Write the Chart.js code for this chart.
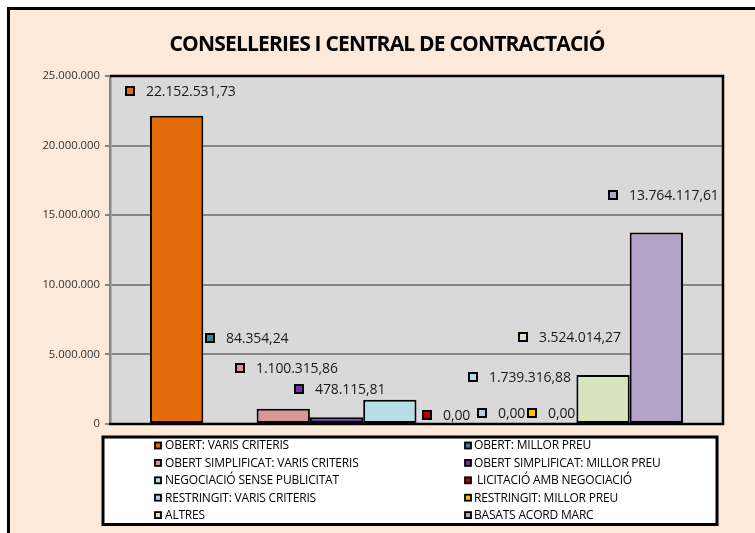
<!DOCTYPE html>
<html>
<head>
<meta charset="utf-8">
<script src="https://cdn.jsdelivr.net/npm/chart.js@4/dist/chart.umd.min.js"></script>
<style>
  html, body { margin: 0; padding: 0; background: #ffffff; }
  #wrap { position: absolute; left: 0; top: 0; width: 755px; height: 533px; }
</style>
</head>
<body>
<div id="wrap"><canvas id="c" width="755" height="533"></canvas></div>
<script>
// ---- data ----
const categories = [''];
const seriesNames = [
  'OBERT: VARIS CRITERIS',
  'OBERT: MILLOR PREU',
  'OBERT SIMPLIFICAT: VARIS CRITERIS',
  'OBERT SIMPLIFICAT: MILLOR PREU',
  'NEGOCIACIÓ SENSE PUBLICITAT',
  ' LICITACIÓ AMB NEGOCIACIÓ',
  'RESTRINGIT: VARIS CRITERIS',
  'RESTRINGIT: MILLOR PREU',
  'ALTRES',
  'BASATS ACORD MARC'
];
const seriesValues = [
  22152531.73,
  84354.24,
  1100315.86,
  478115.81,
  1739316.88,
  0.00,
  0.00,
  0.00,
  3524014.27,
  13764117.61
];
const yTickValues = [0, 5000000, 10000000, 15000000, 20000000, 25000000];
const chartTitle = 'CONSELLERIES I CENTRAL DE CONTRACTACIÓ';

// ---- styles ----
const seriesColors = ['#E46C0A', '#31859C', '#DA9694', '#7030A0', '#B7DEE8',
                      '#C00000', '#B9CDE5', '#FFC000', '#D7E4BD', '#B3A2C7'];
// data-label anchor: marker left relative to bar centre, label centre relative to bar top (px)
const labelNudge = [[-52, -25], [-25, -85], [-48, -41], [-43, -28], [78, -23],
                    [-21, -9], [-19, -11], [-23, -11], [-85, -38], [-48, -37]];

function fmtThousands(n) {
  return String(Math.round(n)).replace(/\B(?=(\d{3})+(?!\d))/g, '.');
}
function fmtValue(v) {
  const parts = v.toFixed(2).split('.');
  return parts[0].replace(/\B(?=(\d{3})+(?!\d))/g, '.') + ',' + parts[1];
}

const decorPlugin = {
  id: 'decor',
  beforeDraw(chart) {
    const ctx = chart.ctx, a = chart.chartArea;
    ctx.save();
    ctx.fillStyle = '#ffffff';
    ctx.fillRect(0, 0, chart.width, chart.height);
    ctx.fillStyle = '#FDE9D9';
    ctx.fillRect(8.5, 8.5, chart.width + 20, chart.height + 20);
    ctx.strokeStyle = '#000000';
    ctx.lineWidth = 3;
    ctx.strokeRect(8.5, 8.5, chart.width + 20, chart.height + 20);
    ctx.fillStyle = '#D9D9D9';
    ctx.fillRect(a.left, a.top, a.right - a.left, a.bottom - a.top);
    ctx.restore();
  },
  afterDraw(chart) {
    const ctx = chart.ctx, a = chart.chartArea;
    ctx.save();
    // plot frame (top, right, bottom)
    ctx.strokeStyle = '#000000';
    ctx.lineWidth = 2.5;
    ctx.beginPath();
    ctx.moveTo(a.left, a.top);
    ctx.lineTo(a.right, a.top);
    ctx.lineTo(a.right, a.bottom);
    ctx.lineTo(a.left - 1, a.bottom);
    ctx.stroke();

    // title
    ctx.fillStyle = '#000000';
    ctx.font = 'bold 21px "Open Sans"';
    ctx.letterSpacing = '-0.8px';
    ctx.textAlign = 'center';
    ctx.textBaseline = 'middle';
    ctx.fillText(chartTitle, 387, 45);
    ctx.letterSpacing = '0px';

    // data labels
    ctx.font = '14px "Open Sans"';
    ctx.letterSpacing = '-0.1px';
    ctx.textAlign = 'left';
    ctx.textBaseline = 'middle';
    chart.data.datasets.forEach((ds, i) => {
      const bar = chart.getDatasetMeta(i).data[0];
      const mx = Math.round(bar.x + labelNudge[i][0]);
      const cy = Math.round(bar.y + labelNudge[i][1]);
      ctx.fillStyle = ds.backgroundColor;
      ctx.fillRect(mx + 1, cy - 4, 8, 8);
      ctx.strokeStyle = '#000000';
      ctx.lineWidth = 2;
      ctx.strokeRect(mx + 1, cy - 4, 8, 8);
      ctx.fillStyle = '#1a1a1a';
      ctx.fillText(fmtValue(ds.data[0]), mx + 21, cy + 1);
    });

    // legend box
    ctx.fillStyle = '#ffffff';
    ctx.fillRect(103, 437, 614, 87.5);
    ctx.strokeStyle = '#000000';
    ctx.lineWidth = 3;
    ctx.strokeRect(103, 437, 614, 87.5);
    ctx.font = '12px "Open Sans"';
    ctx.letterSpacing = '-0.2px';
    chart.data.datasets.forEach((ds, i) => {
      const col = i % 2, row = Math.floor(i / 2);
      const mx = col ? 464 : 154;
      const tx = col ? 474 : 165;
      const cy = 445.5 + row * 17.4;
      ctx.fillStyle = ds.backgroundColor;
      ctx.fillRect(mx + 1, cy - 3, 6, 6);
      ctx.strokeStyle = '#000000';
      ctx.lineWidth = 1.8;
      ctx.strokeRect(mx + 1, cy - 3, 6, 6);
      ctx.fillStyle = '#000000';
      ctx.fillText(ds.label, tx, cy + 0.5);
    });
    ctx.restore();
  }
};

const datasets = seriesNames.map((name, i) => ({
  label: name,
  data: [seriesValues[i]],
  backgroundColor: seriesColors[i],
  borderColor: '#000000',
  borderWidth: 2,
  borderSkipped: false,
  categoryPercentage: 0.8695,
  barPercentage: 1.0
}));

new Chart(document.getElementById('c'), {
  type: 'bar',
  data: { labels: categories, datasets },
  options: {
    responsive: false,
    animation: false,
    devicePixelRatio: 1,
    layout: { padding: { left: 0, top: 76, right: 32, bottom: 109 } },
    plugins: {
      legend: { display: false },
      title: { display: false },
      tooltip: { enabled: false }
    },
    scales: {
      x: { display: false },
      y: {
        min: 0,
        max: 25000000,
        afterFit(scale) { scale.width = 110; },
        afterBuildTicks(scale) { scale.ticks = yTickValues.map(v => ({ value: v })); },
        ticks: {
          padding: 5,
          color: '#333333',
          font: { family: 'Open Sans', size: 11.3 },
          callback: (v) => fmtThousands(v)
        },
        grid: {
          color: '#858585',
          lineWidth: 2,
          tickLength: 5,
          tickColor: '#858585',
          drawOnChartArea: true
        },
        border: { display: true, color: '#858585', width: 2.5 }
      }
    }
  },
  plugins: [decorPlugin]
});
</script>
</body>
</html>
